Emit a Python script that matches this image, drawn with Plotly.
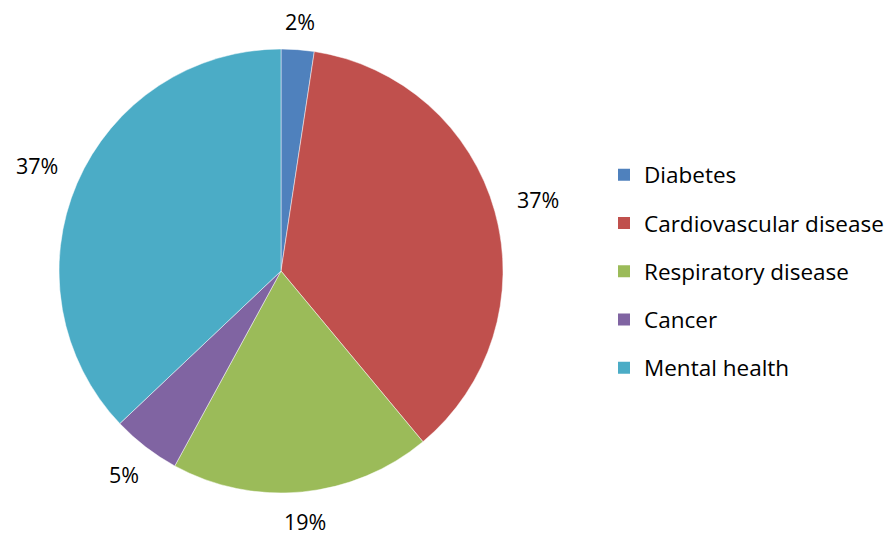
import math
import plotly.graph_objects as go

labels = ["Diabetes", "Cardiovascular disease", "Respiratory disease", "Cancer", "Mental health"]
values = [2.4, 36.6, 19.0, 5.0, 37.1]
colors = ["#4F81BD", "#C0504D", "#9BBB59", "#8064A2", "#4BACC6"]

W, H = 891, 535
FONT = "Open Sans"

def fx(px):
    return px / W

def fy(py):
    return 1 - py / H

# pie geometry (pixels)
cx, cy, R = 281, 271, 222
dom_x = [fx(cx - R), fx(cx + R)]
dom_y = [fy(cy + R), fy(cy - R)]

fig = go.Figure()
fig.add_trace(go.Pie(
    labels=labels, values=values, sort=False, direction="clockwise", rotation=0,
    marker=dict(colors=colors, line=dict(color="rgba(255,255,255,0.6)", width=0.8)),
    textinfo="none", showlegend=False, hoverinfo="label+percent",
    domain=dict(x=dom_x, y=dom_y),
))

# outside percentage labels, placed from slice mid-angles
total = sum(values)
cum = 0
annotations = []
for lab, v in zip(labels, values):
    frac = v / total
    mid = (cum + frac / 2) * 2 * math.pi
    cum += frac
    txt = f"{round(frac * 100)}%"
    w = 14.5 * len(txt)
    h = 10
    s, c = math.sin(mid), math.cos(mid)
    r = R * 1.1 + abs(s) * w / 2 + abs(c) * h / 2
    px = cx + r * s
    py = cy - r * c
    annotations.append(dict(x=fx(px), y=fy(py), xref="paper", yref="paper",
                            text=txt, showarrow=False, xanchor="center", yanchor="middle",
                            borderpad=0,
                            font=dict(family=FONT, size=21.5, color="#000000")))

# legend entries
for i, (lab, col) in enumerate(zip(labels, colors)):
    fig.add_trace(go.Scatter(x=[None], y=[None], mode="markers", name=lab,
                             marker=dict(symbol="square", size=15, color=col),
                             legendgroup=f"g{i}", showlegend=True, hoverinfo="skip"))

fig.update_layout(
    width=W, height=H, margin=dict(l=0, r=0, t=0, b=0),
    paper_bgcolor="white", plot_bgcolor="white",
    xaxis=dict(visible=False), yaxis=dict(visible=False),
    annotations=annotations,
    legend=dict(x=fx(604), y=fy(271.5), xanchor="left", yanchor="middle",
                font=dict(family=FONT, size=22.5, color="#000000"),
                tracegroupgap=16, itemsizing="constant", bgcolor="rgba(0,0,0,0)"),
    font=dict(family=FONT),
)

fig.write_html("out.html", config={"displayModeBar": False},
               post_script="document.body.style.margin='0';")
